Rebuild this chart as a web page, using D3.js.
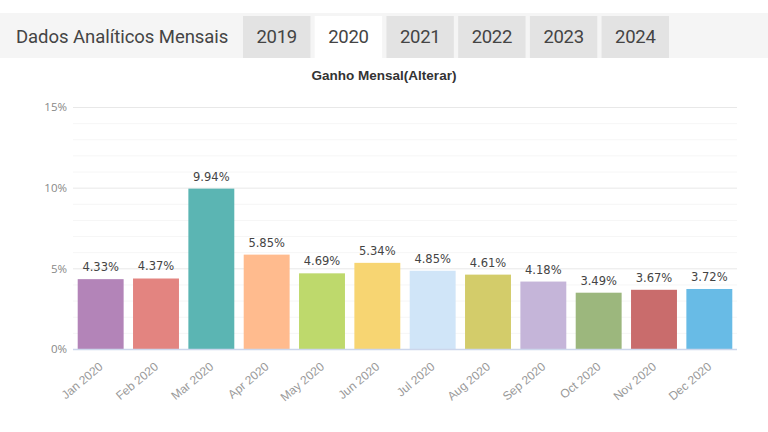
<!DOCTYPE html>
<html><head><meta charset="utf-8">
<script src="https://cdn.jsdelivr.net/npm/d3@7"></script>
<style>
html,body{margin:0;padding:0;background:#fff;width:768px;height:432px;overflow:hidden;}
</style></head>
<body><svg id="c" width="768" height="432"></svg>
<script>
const categories = ["Jan 2020","Feb 2020","Mar 2020","Apr 2020","May 2020","Jun 2020","Jul 2020","Aug 2020","Sep 2020","Oct 2020","Nov 2020","Dec 2020"];
const values = [4.33,4.37,9.94,5.85,4.69,5.34,4.85,4.61,4.18,3.49,3.67,3.72];
const barColors = ["#b384b8","#e38480","#5bb5b3","#ffbb8e","#bed96c","#f7d572","#d0e5f8","#d3cc6a","#c5b5d9","#9cb77d","#c96c6c","#68bbe6"];
const years = ["2019","2020","2021","2022","2023","2024"];
const yTicks = [0,5,10,15];
const minorTicks = [1,2,3,4,6,7,8,9,11,12,13,14];

const svg = d3.select("#c");
// tab bar
svg.append("rect").attr("x",0).attr("y",13).attr("width",768).attr("height",45).attr("fill","#f5f5f5");
svg.append("text").attr("x",16).attr("y",43).attr("font-family","Roboto").attr("font-size",18.5)
  .attr("fill","#444").attr("letter-spacing",-0.05).text("Dados Analíticos Mensais");
const tabX = d3.scaleBand().domain(years).range([243,669]).paddingInner(0.06).paddingOuter(0);
years.forEach(y=>{
  svg.append("rect").attr("x",tabX(y)).attr("y",16).attr("width",tabX.bandwidth()).attr("height",42)
    .attr("fill", y==="2020" ? "#ffffff" : "#e3e3e3");
  svg.append("text").attr("x",tabX(y)+tabX.bandwidth()/2).attr("y",43).attr("text-anchor","middle")
    .attr("font-family","Roboto").attr("font-size",18.5).attr("fill","#444").attr("letter-spacing",-0.3).text(y);
});

// chart title
svg.append("text").attr("x",384).attr("y",80).attr("text-anchor","middle").attr("font-family","Liberation Sans")
  .attr("font-weight","bold").attr("font-size",13.5).attr("fill","#333").text("Ganho Mensal(Alterar)");

const x = d3.scaleBand().domain(categories).range([73,737]).paddingInner(0.17).paddingOuter(0.085);
const y = d3.scaleLinear().domain([0,15]).range([349,107]);

const g = svg.append("g");
g.selectAll("line.minor").data(minorTicks).join("line")
  .attr("x1",73).attr("x2",737).attr("y1",d=>y(d)+0.5).attr("y2",d=>y(d)+0.5)
  .attr("stroke","#f6f6f6").attr("stroke-width",1);
g.selectAll("line.major").data(yTicks.filter(d=>d>0)).join("line")
  .attr("x1",73).attr("x2",737).attr("y1",d=>y(d)+0.5).attr("y2",d=>y(d)+0.5)
  .attr("stroke","#e8e8e8").attr("stroke-width",1);

// y axis labels
const yAxis = d3.axisLeft(y).tickValues(yTicks).tickFormat(d=>d+"%").tickSize(0).tickPadding(6);
const ya = svg.append("g").attr("transform","translate(73,0)").call(yAxis);
ya.select(".domain").remove();
ya.selectAll("text").attr("font-family","Open Sans").attr("font-size",11.5).attr("fill","#888").attr("dy","0.32em");

// bars
svg.selectAll("rect.bar").data(values).join("rect")
  .attr("x",(d,i)=>x(categories[i])).attr("width",x.bandwidth())
  .attr("y",d=>y(d)).attr("height",d=>y(0)-y(d)).attr("fill",(d,i)=>barColors[i]);

// value labels
svg.selectAll("text.val").data(values).join("text")
  .attr("x",(d,i)=>x(categories[i])+x.bandwidth()/2).attr("y",d=>y(d)-8)
  .attr("text-anchor","middle").attr("font-family","DejaVu Sans").attr("font-size",11.5).attr("fill","#444")
  .text(d=>d.toFixed(2)+"%");

// x axis baseline
svg.append("line").attr("x1",73).attr("x2",737).attr("y1",349.5).attr("y2",349.5).attr("stroke","#ccd6eb").attr("stroke-width",1.5);

const xAxis = d3.axisBottom(x).tickSize(0).tickPadding(0);
const xa = svg.append("g").attr("transform","translate(0,349)").call(xAxis);
xa.select(".domain").remove();
xa.selectAll("text").attr("font-family","Liberation Sans").attr("font-size",12).attr("fill","#999")
  .attr("text-anchor","end").attr("dy",0).attr("y",0)
  .attr("transform","translate(3,19) rotate(-40)");
</script></body></html>
